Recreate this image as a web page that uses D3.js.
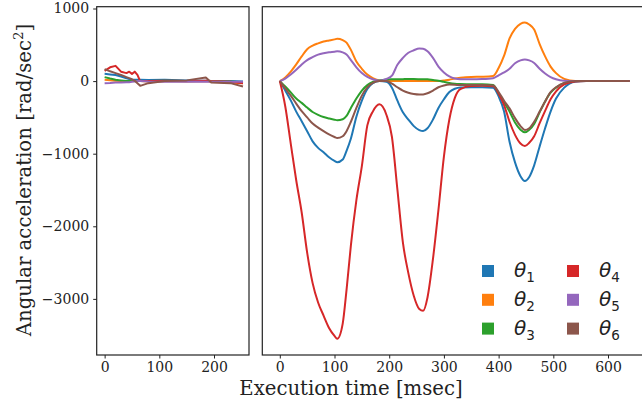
<!DOCTYPE html>
<html>
<head>
<meta charset="utf-8">
<title>Angular acceleration</title>
<script src="https://cdn.jsdelivr.net/npm/d3@7"></script>
<style>
  body { margin: 0; background: #fff; }
  .tick text { font-family: "DejaVu Serif", serif; font-size: 14px; fill: #222; }
  .tick line { stroke: #222; }
  .domain { display: none; }
  .frame { fill: none; stroke: #222; stroke-width: 1.2; }
  .lab { font-family: "DejaVu Serif", serif; font-size: 19.7px; fill: #222; }
  .leg { font-family: "DejaVu Sans", sans-serif; font-style: italic; font-size: 20px; fill: #222; }
</style>
</head>
<body>
<svg id="chart" width="642" height="404"></svg>
<script>
// series names + colours
const names = ["1", "2", "3", "4", "5", "6"];
const colors = ["#1f77b4", "#ff7f0e", "#2ca02c", "#d62728", "#9467bd", "#8c564b"];

// left panel (short run), msec
const leftT = [0, 10, 20, 30, 40, 45, 50, 55, 60, 65, 80, 110, 150, 185, 195, 230, 253];
const leftTheta1 = [100, 92, 85, 64, 40, 30, 18, 18, 18, 18, 15, 18, 10, 5, 0, 0, -5];
const leftTheta2 = [20, 12, 5, 0, 0, 0, 0, 0, 0, 0, -5, 0, -5, 0, -10, -20, -30];
const leftTheta3 = [55, 35, 18, 10, 0, 0, 0, 0, 0, 0, 0, 5, 0, 0, 0, -5, -20];
const leftTheta4 = [142, 190, 210, 130, 110, 130, 100, 130, 85, 0, 0, 5, 0, 5, 0, -10, -30];
const leftTheta5 = [-28, -25, -20, -20, -15, -15, -10, -5, 0, 0, -5, -10, -5, -10, -10, -10, -10];
const leftTheta6 = [165, 135, 110, 85, 55, 41, 25, 5, -30, -65, -28, 0, 10, 50, -19, -28, -74];

// right panel (long run), msec
const rightT = [0, 10, 20, 30, 40, 50, 60, 70, 80, 90, 100, 105, 115, 122, 130, 140, 150, 160, 170, 182,
  195, 205, 215, 225, 235, 245, 255, 262, 270, 280, 290, 300, 310, 320, 330, 350, 370, 390,
  400, 410, 420, 430, 440, 448, 456, 465, 475, 485, 495, 505, 520, 540, 560, 600, 640];
const rightTheta1 = [0, -130, -265, -420, -553, -690, -830, -920, -980, -1050, -1100, -1118, -1080, -960, -790, -490, -270, -110, -30, 0,
  -10, -90, -270, -430, -530, -620, -675, -688, -650, -530, -370, -250, -150, -105, -87, -85, -85, -90,
  -210, -420, -835, -1120, -1310, -1375, -1320, -1160, -900, -650, -420, -240, -90, -10, 0, 0, 0];
const rightTheta2 = [0, 50, 130, 230, 340, 440, 490, 520, 545, 560, 575, 583, 565, 530, 430, 270, 170, 90, 40, 10,
  0, 0, 0, 0, 0, 0, 0, 0, 0, 0, 0, 10, 20, 35, 45, 57, 60, 70,
  180, 350, 587, 720, 790, 807, 780, 710, 510, 340, 200, 110, 30, 0, 0, 0, 0];
const rightTheta3 = [0, -75, -155, -240, -300, -365, -425, -465, -495, -515, -532, -538, -525, -480, -370, -240, -130, -55, -12, 10,
  22, 25, 26, 27, 28, 28, 27, 26, 24, 15, 5, -10, -25, -35, -40, -45, -45, -55,
  -170, -290, -420, -570, -670, -706, -670, -590, -430, -280, -160, -90, -25, 0, 0, 0, 0];
const rightTheta4 = [0, -350, -860, -1366, -1810, -2363, -2783, -3050, -3230, -3400, -3510, -3550, -3340, -2875, -2260, -1640, -1170, -610, -420, -320,
  -467, -770, -1495, -2222, -2645, -2960, -3140, -3165, -2980, -2450, -1775, -1040, -525, -230, -110, -68, -65, -70,
  -170, -330, -560, -740, -860, -894, -850, -760, -580, -410, -250, -140, -45, -5, 0, 0, 0];
const rightTheta5 = [0, 35, 90, 155, 230, 290, 330, 365, 385, 398, 405, 410, 395, 365, 290, 190, 110, 57, 25, 5,
  30, 75, 225, 320, 390, 425, 448, 445, 410, 320, 200, 120, 65, 35, 25, 25, 28, 40,
  80, 120, 170, 245, 285, 298, 285, 250, 170, 105, 55, 25, 5, 0, 0, 0, 0];
const rightTheta6 = [0, -100, -200, -310, -415, -500, -585, -640, -690, -735, -770, -785, -760, -690, -560, -370, -200, -85, -25, 0,
  0, -35, -85, -130, -160, -178, -185, -183, -168, -130, -85, -60, -48, -50, -55, -55, -55, -60,
  -150, -270, -376, -510, -620, -675, -650, -560, -420, -280, -150, -85, -25, 0, 0, 0, 0];

const leftSeries = [leftTheta1, leftTheta2, leftTheta3, leftTheta4, leftTheta5, leftTheta6];
const rightSeries = [rightTheta1, rightTheta2, rightTheta3, rightTheta4, rightTheta5, rightTheta6];

const svg = d3.select("#chart");
svg.append("rect").attr("width", 642).attr("height", 404).attr("fill", "#fff");

const yTop = 6.7, yBottom = 355;
const y = d3.scaleLinear().domain([-3773, 1025]).range([yBottom, yTop]);

const xL = d3.scaleLinear().domain([-14.5, 264]).range([96.7, 249]);
const xR = d3.scaleLinear().domain([-32, 672]).range([262.3, 647.4]);

function panel(id, x, tArr, series, curve) {
  const g = svg.append("g");
  const [x0, x1] = x.range();
  g.append("clipPath").attr("id", id)
    .append("rect").attr("x", x0).attr("y", yTop).attr("width", x1 - x0).attr("height", yBottom - yTop);

  const line = d3.line()
    .x((d, i) => x(tArr[i]))
    .y(d => y(d))
    .curve(curve);

  g.append("g").attr("clip-path", "url(#" + id + ")")
    .selectAll("path")
    .data(series)
    .enter()
    .append("path")
    .attr("d", d => line(d))
    .attr("fill", "none")
    .attr("stroke", (d, i) => colors[i])
    .attr("stroke-width", 2)
    .attr("stroke-linejoin", "round");

  g.append("g")
    .attr("transform", "translate(0," + yBottom + ")")
    .call(d3.axisBottom(x).tickValues(d3.range(0, x.domain()[1], 100)).tickSize(3.5).tickPadding(4).tickFormat(d3.format("d")));

  g.append("rect").attr("class", "frame")
    .attr("x", x0).attr("y", yTop).attr("width", x1 - x0).attr("height", yBottom - yTop);
  return g;
}

panel("clipL", xL, leftT, leftSeries, d3.curveLinear);
panel("clipR", xR, rightT, rightSeries, d3.curveMonotoneX);

// y axis on the left panel only
svg.append("g")
  .attr("transform", "translate(96.7,0)")
  .call(d3.axisLeft(y).tickValues([1000, 0, -1000, -2000, -3000]).tickSize(3.5).tickPadding(4)
    .tickFormat(d => d < 0 ? "\u2212" + Math.abs(d) : d));

// axis labels
svg.append("text").attr("class", "lab")
  .attr("x", 351).attr("y", 395).attr("text-anchor", "middle")
  .text("Execution time [msec]");

const yl = svg.append("text").attr("class", "lab")
  .attr("transform", "translate(31,180) rotate(-90)")
  .attr("text-anchor", "middle");
yl.append("tspan").text("Angular acceleration [rad/sec");
yl.append("tspan").attr("dy", -8).attr("font-size", 13.5).text("2");
yl.append("tspan").attr("dy", 8).text("]");

// legend, two columns of three
const leg = svg.append("g");
names.forEach((n, i) => {
  const col = Math.floor(i / 3), row = i % 3;
  const lx = 482 + col * 85, ly = 271 + row * 28.8;
  leg.append("rect").attr("x", lx).attr("y", ly - 6).attr("width", 12).attr("height", 12).attr("fill", colors[i]);
  const t = leg.append("text").attr("class", "leg").attr("x", lx + 32).attr("y", ly + 6);
  t.append("tspan").text("\u03b8");
  t.append("tspan").attr("dy", 5).attr("font-size", 13.5).attr("font-style", "normal").text(n);
});
</script>
</body>
</html>
